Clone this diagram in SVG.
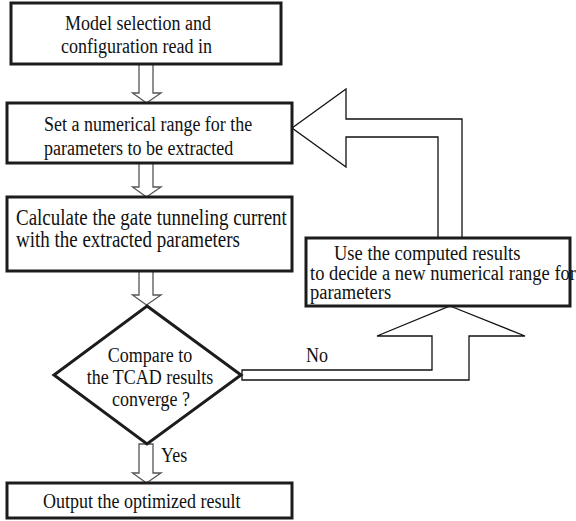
<svg xmlns="http://www.w3.org/2000/svg" width="576" height="521" viewBox="0 0 576 521">
<style>
.box{fill:#fff;stroke:#1c1c1c;stroke-width:3}
.small{fill:#fff;stroke:#555;stroke-width:1.3;stroke-linejoin:miter}
.big{fill:#fff;stroke:#111;stroke-width:1.3;stroke-linejoin:miter}
.t{font-family:"Liberation Serif","Times New Roman",serif;font-size:18px;fill:#111}
.m{text-anchor:middle}
</style>
<rect width="576" height="521" fill="#fff"/>
<g id="connectors">
<polygon class="small" points="139,64 139,93 132.5,93 146.5,103 161,93 153,93 153,64"/>
<polygon class="small" points="139,163 139,187 132.5,187 146.5,197 161,187 153,187 153,163"/>
<polygon class="small" points="139,271 139,295 132.5,295 146.5,305 161,295 153,295 153,271"/>
<polygon class="small" points="139,444 139,473 132.5,473 146.5,483 161,473 153,473 153,444"/>
<polygon class="big" points="292,128 346,89 346,119 462,119 462,238 438,238 438,137 346,137 346,167"/>
<polygon class="big" points="450,306 525,336 469,336 469,380 242,380 242,370 432,370 432,336 377,336"/>
<text class="t" transform="translate(306,362) scale(1,1.2)">No</text>
<text class="t" transform="translate(161,462) scale(1,1.2)">Yes</text>
</g>
<g id="n1">
<rect class="box" x="11" y="3" width="270" height="61"/>
<text class="t" transform="translate(65,30) scale(1,1.2)">Model selection and</text>
<text class="t" transform="translate(61,53) scale(1,1.2)">configuration read in</text>
</g>
<g id="n2">
<rect class="box" x="7" y="103" width="285" height="60"/>
<text class="t" transform="translate(44,131) scale(1,1.2)">Set a numerical range for the</text>
<text class="t" transform="translate(44,155) scale(1,1.2)">parameters to be extracted</text>
</g>
<g id="n3">
<rect class="box" x="7" y="197" width="285" height="74"/>
<text class="t" style="font-size:19px" transform="translate(16,225) scale(1,1.17)">Calculate the gate tunneling current</text>
<text class="t" style="font-size:19px" transform="translate(16,247) scale(1,1.17)">with the extracted parameters</text>
</g>
<g id="n4">
<rect class="box" x="306" y="238" width="264" height="68"/>
<text class="t" style="font-size:18.5px" transform="translate(334,260) scale(1,1.08)">Use the computed results</text>
<text class="t" style="font-size:18.5px" transform="translate(310,280) scale(1,1.08)">to decide a new numerical range for</text>
<text class="t" style="font-size:18.5px" transform="translate(310,299) scale(1,1.08)">parameters</text>
</g>
<g id="n5">
<polygon class="box" points="147,306 241,375 147,444 54,375"/>
<text class="t m" transform="translate(150,362) scale(1,1.2)">Compare to</text>
<text class="t m" transform="translate(150,384) scale(1,1.2)">the TCAD results</text>
<text class="t m" transform="translate(151,406) scale(1,1.2)">converge ?</text>
</g>
<g id="n6">
<rect class="box" x="7" y="483" width="285" height="35"/>
<text class="t" transform="translate(43,508) scale(1,1.2)">Output the optimized result</text>
</g>
</svg>
